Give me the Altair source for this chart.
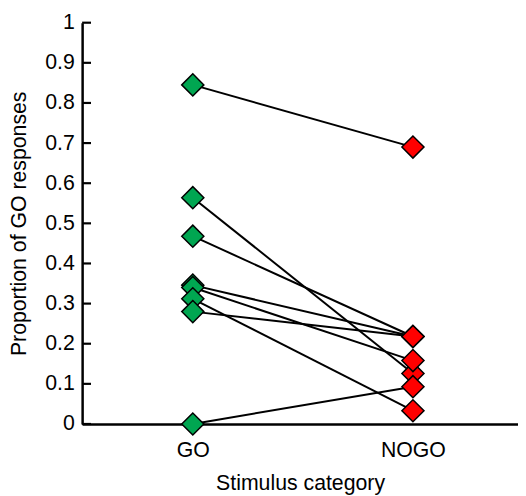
import altair as alt
import pandas as pd

subjects = ["S1", "S2", "S3", "S4", "S5", "S6", "S7", "S8"]
go_values = [0.845, 0.564, 0.468, 0.346, 0.340, 0.312, 0.280, 0.0]
nogo_values = [0.690, 0.126, 0.218, 0.218, 0.158, 0.033, 0.218, 0.093]
categories = ["GO", "NOGO"]
colors = ["#00A651", "#FF0000"]
y_ticks = [0, 0.1, 0.2, 0.3, 0.4, 0.5, 0.6, 0.7, 0.8, 0.9, 1.0]

rows = []
for s, g, n in zip(subjects, go_values, nogo_values):
    rows.append({"subject": s, "category": categories[0], "value": g})
    rows.append({"subject": s, "category": categories[1], "value": n})
df = pd.DataFrame(rows)
ticks_df = pd.DataFrame({"t": y_ticks})

FONT = "Liberation Sans"

x_enc = alt.X(
    "category:N",
    sort=categories,
    scale=alt.Scale(type="point", padding=0.49, align=0.513, domain=categories),
    axis=alt.Axis(
        title="Stimulus category",
        ticks=False,
        tickSize=0,
        labelAngle=0,
        labelPadding=16,
        labelFontSize=21.5,
        labelFont=FONT,
        labelColor="#000000",
        domainColor="#000000",
        domainWidth=2.5,
        titleFont=FONT,
        titleFontSize=21.5,
        titleFontWeight="normal",
        titleColor="#000000",
        titleY=49,
        titleBaseline="top",
        grid=False,
    ),
)
y_enc = alt.Y(
    "value:Q",
    scale=alt.Scale(domain=[0, 1], nice=False, zero=True),
    axis=alt.Axis(
        title="Proportion of GO responses",
        values=y_ticks,
        format=".1~f",
        ticks=False,
        tickSize=0,
        labelPadding=8,
        labelFontSize=21.5,
        labelFont=FONT,
        labelColor="#000000",
        domainColor="#000000",
        domainWidth=2.5,
        titleFont=FONT,
        titleFontSize=21.5,
        titleFontWeight="normal",
        titleColor="#000000",
        titleX=-63.5,
        titleY=203,
        titleAngle=-90,
        titleAlign="center",
        titleBaseline="middle",
        grid=False,
    ),
)

lines = alt.Chart(df).mark_line(color="#000000", strokeWidth=2).encode(
    x=x_enc, y=y_enc, detail="subject:N"
)
points = alt.Chart(df).mark_point(
    shape="diamond", filled=True, size=500, stroke="#000000", strokeWidth=1.5, opacity=1
).encode(
    x=alt.X("category:N", sort=categories),
    y=alt.Y("value:Q"),
    fill=alt.Fill("category:N", scale=alt.Scale(domain=categories, range=colors), legend=None),
)
ticks = alt.Chart(ticks_df).mark_rule(color="#000000", strokeWidth=2.2).encode(
    y=alt.Y("t:Q"), x=alt.value(0), x2=alt.value(9)
)

chart = alt.layer(lines, ticks, points).properties(
    width=441,
    height=406,
    padding={"left": 75, "top": 12, "right": 0, "bottom": 70},
    autosize=alt.AutoSizeParams(type="none"),
).configure_view(stroke=None)

chart.save("out.html", embed_options={"renderer": "svg", "actions": False})
